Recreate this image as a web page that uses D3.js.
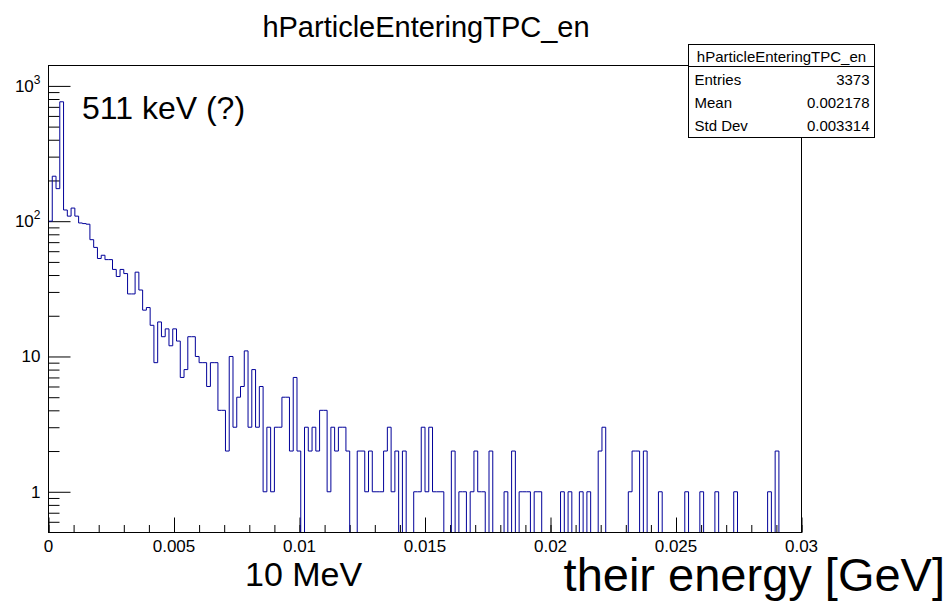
<!DOCTYPE html>
<html>
<head>
<meta charset="utf-8">
<script src="https://cdn.jsdelivr.net/npm/d3@7"></script>
<style>
body { margin: 0; background: #fff; }
svg { display: block; font-family: "Liberation Sans", Arial, Helvetica, sans-serif; }
</style>
</head>
<body>
<svg id="hist" width="949" height="602"></svg>
<script>
// 200 bins from 0 to 0.03 GeV
var nBins = 200, xLow = 0, xHigh = 0.03;
var counts = [
  100, 215, 174, 763, 121, 109, 125, 109, 97, 96,
  95, 73, 64, 53, 56, 52, 52, 44, 39, 44,
  41, 29, 29, 42, 31, 22, 23, 17, 9, 18,
  14, 16, 12, 16, 13, 7, 8, 14, 14, 10,
  9, 9, 6, 9, 9, 4, 4, 2, 10, 3,
  5, 6, 11, 3, 8, 3, 6, 1, 3, 1,
  3, 3, 5, 5, 2, 7, 2, 0, 3, 2,
  3, 2, 4, 4, 1, 3, 2, 3, 3, 2,
  0, 0, 2, 2, 1, 2, 1, 1, 1, 2,
  3, 1, 2, 0, 2, 0, 0, 1, 1, 3,
  1, 3, 1, 1, 1, 0, 0, 2, 0, 1,
  1, 0, 1, 2, 1, 1, 0, 2, 0, 0,
  0, 1, 0, 2, 0, 1, 1, 1, 0, 1,
  1, 0, 0, 0, 0, 0, 1, 0, 1, 0,
  0, 1, 0, 1, 0, 0, 2, 3, 0, 0,
  0, 0, 0, 0, 1, 2, 2, 0, 2, 0,
  0, 0, 1, 0, 0, 0, 0, 0, 0, 1,
  0, 0, 0, 1, 0, 0, 0, 1, 0, 0,
  0, 0, 1, 0, 0, 0, 0, 0, 0, 0,
  0, 1, 0, 2, 0, 0, 0, 0, 0, 0
];
var xMajorTicks = [0, 0.005, 0.01, 0.015, 0.02, 0.025, 0.03];
var xTickLabels = ["0", "0.005", "0.01", "0.015", "0.02", "0.025", "0.03"];
var yDecades = [1, 10, 100, 1000];
var yLabelBase = ["1", "10", "10", "10"];
var yLabelExp = ["", "", "2", "3"];
var statNames = ["Entries", "Mean", "Std Dev"];
var statValues = ["3373", "0.002178", "0.003314"];
var histName = "hParticleEnteringTPC_en";

var svg = d3.select("#hist"),
    margin = {top: 65.5, left: 48.5, right: 147.5, bottom: 69.5},
    width = +svg.attr("width") - margin.left - margin.right,
    height = +svg.attr("height") - margin.top - margin.bottom;

svg.append("rect").attr("width", 949).attr("height", 602).attr("fill", "#fff");

var g = svg.append("g")
    .attr("transform", "translate(" + margin.left + "," + margin.top + ")");

var x = d3.scaleLinear().domain([xLow, xHigh]).range([0, width]);
var y = d3.scaleLog().domain([0.5, 1415]).range([height, 0]).clamp(true);

// minor ticks
var xMinor = d3.range(0, 31).map(function(d) { return d * 0.001; });
var yMinor = [];
[0.1, 1, 10, 100].forEach(function(dec) {
  for (var k = 2; k <= 9; k++) {
    var v = dec * k;
    if (v > 0.5 && v < 1415) yMinor.push(v);
  }
});

g.append("g")
    .attr("transform", "translate(0," + height + ")")
    .call(d3.axisBottom(x).tickValues(xMinor).tickSize(-7.5).tickFormat(""))
    .call(function(a) { a.select(".domain").remove(); });
g.append("g")
    .attr("transform", "translate(0," + height + ")")
    .call(d3.axisBottom(x).tickValues(xMajorTicks).tickSize(-15).tickFormat(""))
    .call(function(a) { a.select(".domain").remove(); });

g.append("g")
    .call(d3.axisLeft(y).tickValues(yMinor).tickSize(-11).tickFormat(""))
    .call(function(a) { a.select(".domain").remove(); });
g.append("g")
    .call(d3.axisLeft(y).tickValues(yDecades).tickSize(-22).tickFormat(""))
    .call(function(a) { a.select(".domain").remove(); });

g.selectAll(".tick line").attr("stroke", "#000");

// histogram outline
var binW = (xHigh - xLow) / nBins;
var pts = [[x(xLow), height]];
counts.forEach(function(c, i) {
  var yy = c > 0 ? y(c) : height;
  pts.push([x(xLow + i * binW), yy]);
  pts.push([x(xLow + (i + 1) * binW), yy]);
});
pts.push([x(xHigh), height]);

g.append("path")
    .attr("d", d3.line()(pts))
    .attr("fill", "none")
    .attr("stroke", "#000099")
    .attr("stroke-width", 1);

// frame
g.append("rect")
    .attr("width", width).attr("height", height)
    .attr("fill", "none").attr("stroke", "#000");

// tick labels
g.selectAll(".xlab")
    .data(xMajorTicks)
  .enter().append("text")
    .attr("x", function(d) { return x(d); })
    .attr("y", height + 19)
    .attr("text-anchor", "middle")
    .style("font-size", "17px")
    .text(function(d, i) { return xTickLabels[i]; });

var yl = g.selectAll(".ylab")
    .data(yDecades)
  .enter().append("text")
    .attr("x", -8)
    .attr("y", function(d) { return y(d) + 6; })
    .attr("text-anchor", "end")
    .style("font-size", "17px");
yl.append("tspan").text(function(d, i) { return yLabelBase[i]; });
yl.append("tspan")
    .attr("dy", -8)
    .style("font-size", "12px")
    .text(function(d, i) { return yLabelExp[i]; });

// title
svg.append("text")
    .attr("x", 426).attr("y", 37)
    .attr("text-anchor", "middle")
    .style("font-size", "29px")
    .text(histName);

// stats box
var sb = svg.append("g").attr("transform", "translate(688.5,44.5)");
sb.append("rect").attr("width", 186).attr("height", 93)
    .attr("fill", "#fff").attr("stroke", "#000");
sb.append("line").attr("x1", 0).attr("x2", 186).attr("y1", 22).attr("y2", 22)
    .attr("stroke", "#000");
sb.append("text").attr("x", 93).attr("y", 17.5)
    .attr("text-anchor", "middle").style("font-size", "15px").text(histName);
statNames.forEach(function(n, i) {
  sb.append("text").attr("x", 6).attr("y", 40.5 + i * 23)
      .style("font-size", "15px").text(n);
  sb.append("text").attr("x", 181).attr("y", 40.5 + i * 23)
      .attr("text-anchor", "end").style("font-size", "15px").text(statValues[i]);
});

// annotations
svg.append("text").attr("x", 82).attr("y", 119)
    .style("font-size", "32px").text("511 keV (?)");
svg.append("text").attr("x", 245).attr("y", 586)
    .style("font-size", "34px").text("10 MeV");
svg.append("text").attr("x", 945).attr("y", 591)
    .attr("text-anchor", "end")
    .style("font-size", "47px").text("their energy [GeV]");
</script>
</body>
</html>
